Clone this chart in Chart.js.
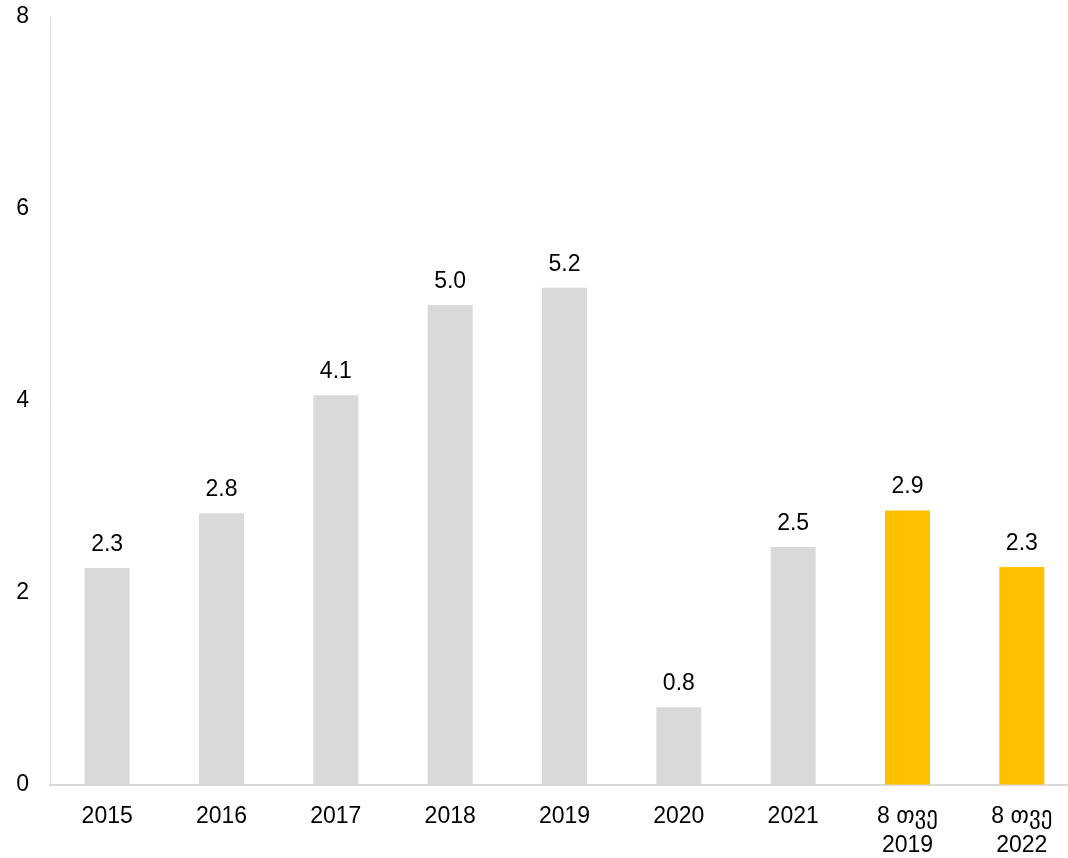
<!DOCTYPE html>
<html>
<head>
<meta charset="utf-8">
<script src="https://cdn.jsdelivr.net/npm/chart.js@4/dist/chart.umd.min.js"></script>
<style>
  html, body { margin: 0; padding: 0; background: #fff; overflow: hidden; }
  #wrap { width: 1079px; height: 858px; }
</style>
</head>
<body>
<div id="wrap"><canvas id="chart"></canvas></div>
<script>
const categories = [
  "2015", "2016", "2017", "2018", "2019", "2020", "2021",
  ["8 თვე", "2019"], ["8 თვე", "2022"]
];
const values = [2.26, 2.83, 4.06, 5.0, 5.18, 0.81, 2.48, 2.86, 2.27];
const barColors = [
  "#d9d9d9", "#d9d9d9", "#d9d9d9", "#d9d9d9", "#d9d9d9",
  "#d9d9d9", "#d9d9d9", "#ffc000", "#ffc000"
];
const yTicks = [0, 2, 4, 6, 8];

const fontFamily = "'Liberation Sans', Arial, 'DejaVu Sans', sans-serif";

// draw the value above every bar
const valueLabels = {
  id: "valueLabels",
  afterDatasetsDraw(chart) {
    const ctx = chart.ctx;
    const meta = chart.getDatasetMeta(0);
    ctx.save();
    ctx.font = "23px " + fontFamily;
    ctx.fillStyle = "#000";
    ctx.textAlign = "center";
    ctx.textBaseline = "alphabetic";
    meta.data.forEach((bar, i) => {
      ctx.fillText(values[i].toFixed(1), bar.x, bar.y - 17);
    });
    ctx.restore();
  }
};

new Chart(document.getElementById("chart").getContext("2d"), {
  type: "bar",
  data: {
    labels: categories,
    datasets: [{
      data: values,
      backgroundColor: barColors,
      borderWidth: 0,
      barPercentage: 0.394,
      categoryPercentage: 1
    }]
  },
  options: {
    responsive: true,
    maintainAspectRatio: false,
    animation: false,
    layout: { padding: { left: 17, top: 0, right: 0, bottom: 0 } },
    plugins: {
      legend: { display: false },
      tooltip: { enabled: false }
    },
    scales: {
      x: {
        afterFit(scale) { scale.height = 73; },
        grid: { display: true, drawOnChartArea: false, drawTicks: false },
        border: { display: true, color: "#d9d9d9", width: 2 },
        ticks: {
          color: "#000",
          font: { family: fontFamily, size: 23, lineHeight: 1.26 },
          padding: 17,
          maxRotation: 0,
          autoSkip: false
        }
      },
      y: {
        min: 0,
        max: 8,
        afterBuildTicks(scale) {
          scale.ticks = yTicks.map(v => ({ value: v }));
        },
        afterFit(scale) {
          scale.width = 33;
          scale.paddingTop = 17;
          scale.paddingBottom = 0;
        },
        grid: { display: true, drawOnChartArea: false, drawTicks: false },
        border: { display: true, color: "#d9d9d9", width: 1 },
        ticks: {
          color: "#000",
          font: { family: fontFamily, size: 23 },
          padding: 21
        }
      }
    }
  },
  plugins: [valueLabels]
});
</script>
</body>
</html>
